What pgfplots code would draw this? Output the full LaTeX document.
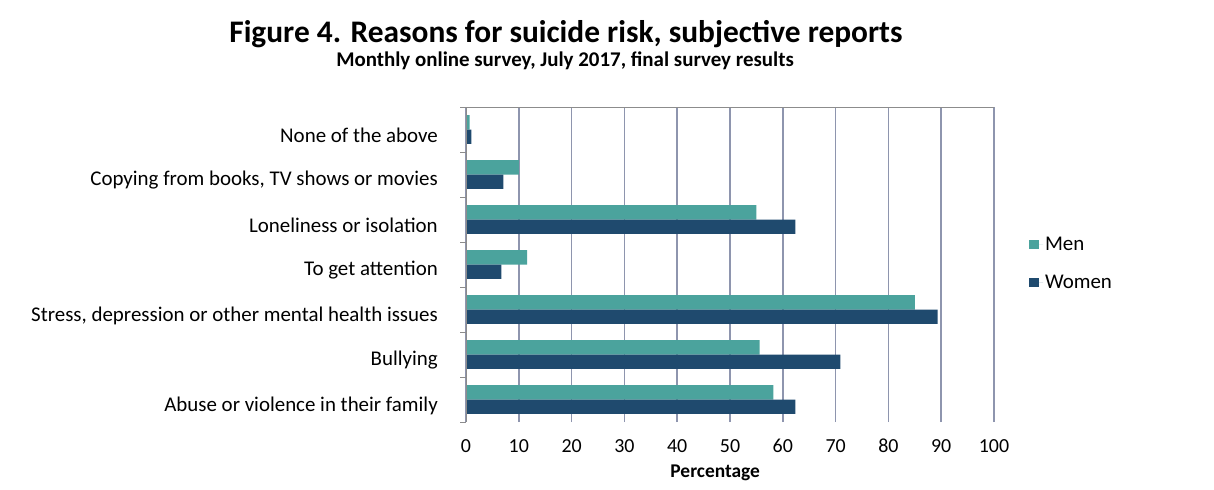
\documentclass[border=0pt]{standalone}
\usepackage{pgfplots}
\pgfplotsset{compat=1.18}
\usepackage{fontspec}
\setmainfont{Carlito}
\definecolor{men}{HTML}{4BA39D}
\definecolor{women}{HTML}{1F4A6E}
\definecolor{gridc}{HTML}{8E95AE}
\definecolor{axc}{HTML}{8C8C8C}
\begin{document}
\begin{tikzpicture}
\useasboundingbox (0,0) rectangle (1214bp,490bp);
\node[font=\fontsize{31.5}{34}\selectfont\bfseries, anchor=base] at (566bp,447bp) {Figure 4. Reasons for suicide risk, subjective reports};
\node[font=\fontsize{21}{23}\selectfont\bfseries, anchor=base] at (565bp,423bp) {Monthly online survey, July 2017, final survey results};
\begin{axis}[
  at={(466bp,68bp)}, anchor=south west,
  scale only axis, width=528bp, height=315bp,
  xmin=0, xmax=100, ymin=-0.5, ymax=6.5,
  xbar, bar width=0.32,
  xtick={0,10,...,100},
  ytick={0,...,6},
  yticklabels={Abuse or violence in their family,Bullying\hspace{5bp},{Stress, depression or other mental health issues},To get attention,Loneliness or isolation\hspace{5bp},{Copying from books, TV shows or movies},None of the above\hspace{7bp}},
  minor ytick={-0.5,0.5,...,6.5},
  major tick length=0pt, minor tick length=6bp,
  tick align=outside, xtick pos=bottom, ytick pos=left,
  minor tick style={axc, line width=1bp},
  axis line style={draw=none},
  xmajorgrids, grid style={gridc, line width=1.5bp},
  /pgf/number format/assume math mode=true,
  ticklabel style={font=\fontsize{20}{23}\selectfont},
  yticklabel style={anchor=east, inner sep=0pt, xshift=-28bp, yshift=-6bp, font=\fontsize{21}{24}\selectfont},
  xticklabel style={anchor=north, inner sep=0pt, yshift=-17bp},
  xlabel={Percentage},
  xlabel style={at={(axis description cs:0.472,0)}, anchor=north, inner sep=0pt, yshift=-43bp, font=\fontsize{19.5}{22}\selectfont\bfseries},
  legend style={draw=none, fill=none, at={(axis description cs:1.066,0.503)}, anchor=west,
    font=\fontsize{21}{24}\selectfont, row sep=19bp, inner sep=0pt,
    legend cell align=left},
  legend image code/.code={\path[#1] (0bp,-4.5bp) rectangle (10bp,4.5bp); \path (0bp,0bp) -- (14bp,0bp);},
]
\addplot[fill=men, draw=none, bar shift=0.16] coordinates {
(58.2,0) (55.6,1) (85.0,2) (11.6,3) (55.0,4) (10.0,5) (0.7,6)};
\addplot[fill=women, draw=none, bar shift=-0.16] coordinates {
(62.4,0) (70.9,1) (89.3,2) (6.7,3) (62.4,4) (7.1,5) (1.0,6)};
\legend{Men,Women}
\draw[axc, line width=1.2bp] (axis cs:0,-0.5) -- (axis cs:0,6.5);
\draw[axc, line width=1.2bp] (axis cs:0,6.5) -- (axis cs:100,6.5);
\end{axis}
\end{tikzpicture}
\end{document}
